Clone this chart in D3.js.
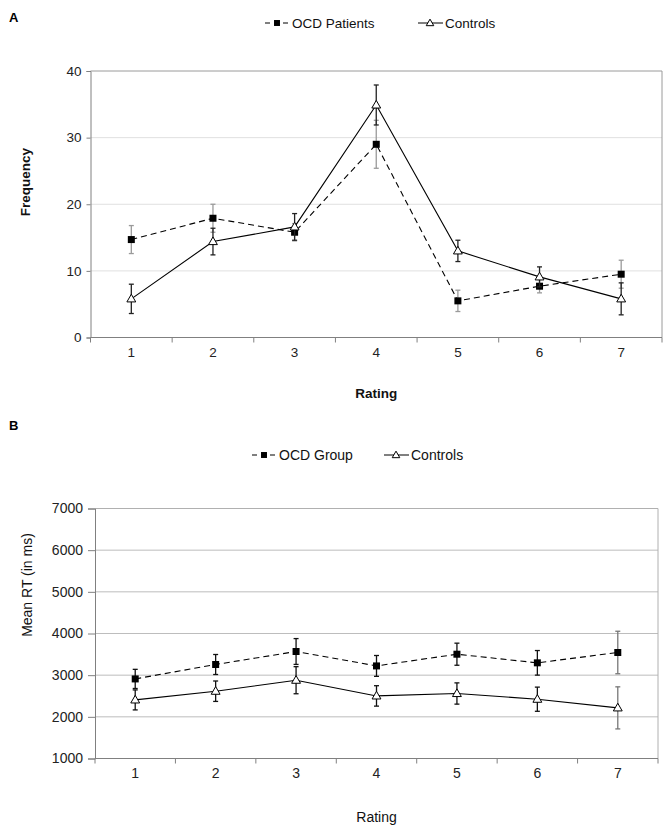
<!DOCTYPE html>
<html>
<head>
<meta charset="utf-8">
<script src="https://cdn.jsdelivr.net/npm/d3@7"></script>
<style>
body { margin: 0; background: #fff; }
svg { font-family: "Liberation Sans", Arial, sans-serif; }
</style>
</head>
<body>
<div id="chart"></div>
<script>
const ratings = ["1", "2", "3", "4", "5", "6", "7"];

// panel A: frequency
const freqTicks = [0, 10, 20, 30, 40];
const freqOcd = [14.7, 17.9, 15.8, 29.0, 5.5, 7.7, 9.5];
const freqOcdErr = [2.1, 2.1, 1.3, 3.6, 1.6, 1.0, 2.1];
const freqCtrl = [5.8, 14.4, 16.6, 34.9, 13.0, 9.1, 5.8];
const freqCtrlErr = [2.2, 2.0, 2.0, 3.0, 1.6, 1.5, 2.4];

// panel B: mean RT
const rtTicks = [1000, 2000, 3000, 4000, 5000, 6000, 7000];
const rtOcd = [2910, 3256, 3568, 3222, 3503, 3296, 3544];
const rtOcdErr = [230, 240, 310, 250, 265, 295, 510];
const rtCtrl = [2406, 2615, 2879, 2502, 2560, 2423, 2215];
const rtCtrlErr = [240, 245, 325, 245, 255, 290, 505];

const width = 670;
const height = 831;

const svg = d3.select("#chart")
	.append("svg")
	.attr("width", width)
	.attr("height", height);

function drawPanel(p) {
	const g = svg.append("g");

	const x = d3.scaleBand()
		.domain(ratings)
		.range([p.left, p.right]);

	const y = d3.scaleLinear()
		.domain([p.ticks[0], p.ticks[p.ticks.length - 1]])
		.range([p.bottom, p.top]);

	// gridlines
	g.append("g")
		.selectAll("line")
		.data(p.ticks.slice(1, -1))
		.enter()
		.append("line")
		.attr("x1", p.left)
		.attr("x2", p.right)
		.attr("y1", d => y(d))
		.attr("y2", d => y(d))
		.style("stroke", p.gridColor)
		.style("stroke-width", 1);

	// frame (top & right)
	g.append("path")
		.attr("d", "M" + p.left + "," + p.top + "H" + p.right + "V" + p.bottom)
		.style("fill", "none")
		.style("stroke", p.frameColor);

	// y axis
	const yAxis = g.append("g")
		.attr("transform", "translate(" + p.left + ",0)")
		.call(d3.axisLeft(y).tickValues(p.ticks).tickFormat(d3.format("d"))
			.tickSize(p.tickLen).tickPadding(5));
	yAxis.select(".domain").style("stroke", "#808080");
	yAxis.selectAll(".tick line").style("stroke", "#808080");
	yAxis.selectAll("text")
		.style("font-size", p.fontSize)
		.style("fill", "#222")
		.style("font-family", "Liberation Sans, Arial, sans-serif");

	// x axis: ticks at category boundaries
	const xAxis = g.append("g")
		.attr("transform", "translate(0," + p.bottom + ")");
	xAxis.append("line")
		.attr("x1", p.left)
		.attr("x2", p.right)
		.style("stroke", "#808080");
	xAxis.selectAll(".bound")
		.data(d3.range(ratings.length + 1))
		.enter()
		.append("line")
		.attr("x1", i => p.left + i * x.bandwidth())
		.attr("x2", i => p.left + i * x.bandwidth())
		.attr("y1", 0)
		.attr("y2", 5)
		.style("stroke", "#808080");
	xAxis.selectAll("text")
		.data(ratings)
		.enter()
		.append("text")
		.attr("x", d => x(d) + x.bandwidth() / 2)
		.attr("y", p.labelDy)
		.attr("text-anchor", "middle")
		.style("font-size", p.fontSize)
		.style("fill", "#222")
		.text(d => d);

	// axis titles
	g.append("text")
		.attr("x", (p.left + p.right) / 2)
		.attr("y", p.xTitleY)
		.attr("text-anchor", "middle")
		.style("font-size", p.fontSize)
		.style("font-weight", p.bold ? "bold" : "normal")
		.style("fill", "#111")
		.text("Rating");

	g.append("text")
		.attr("transform", "translate(" + p.yTitleX + "," + p.yTitleY + ") rotate(-90)")
		.attr("text-anchor", "middle")
		.attr("dy", "0.35em")
		.style("font-size", p.fontSize)
		.style("font-weight", p.bold ? "bold" : "normal")
		.style("fill", "#111")
		.text(p.yTitle);

	// panel letter
	g.append("text")
		.attr("x", 9)
		.attr("y", p.letterY)
		.style("font-size", "13px")
		.style("font-weight", "bold")
		.text(p.letter);

	const cx = d => x(d) + x.bandwidth() / 2;

	const line = d3.line()
		.x(d => cx(d[0]))
		.y(d => y(d[1]));

	p.series.forEach(function (s) {
		const pts = ratings.map((r, i) => [r, s.values[i], s.err[i]]);
		const sg = g.append("g");

		// error bars
		const eb = sg.selectAll(".err")
			.data(pts)
			.enter()
			.append("g")
			.style("stroke", (d, i) => s.errColor[i])
			.style("stroke-width", 1.3);
		eb.append("line")
			.attr("x1", d => cx(d[0]))
			.attr("x2", d => cx(d[0]))
			.attr("y1", d => y(d[1] - d[2]))
			.attr("y2", d => y(d[1] + d[2]));
		eb.append("line")
			.attr("x1", d => cx(d[0]) - 2.5)
			.attr("x2", d => cx(d[0]) + 2.5)
			.attr("y1", d => y(d[1] + d[2]))
			.attr("y2", d => y(d[1] + d[2]));
		eb.append("line")
			.attr("x1", d => cx(d[0]) - 2.5)
			.attr("x2", d => cx(d[0]) + 2.5)
			.attr("y1", d => y(d[1] - d[2]))
			.attr("y2", d => y(d[1] - d[2]));

		sg.append("path")
			.datum(pts)
			.attr("d", line)
			.style("fill", "none")
			.style("stroke", "#000")
			.style("stroke-width", 1.1)
			.style("stroke-dasharray", s.dash);

		drawMarkers(sg, pts.map(d => [cx(d[0]), y(d[1])]), s.marker);
	});

	// legend
	p.series.forEach(function (s, i) {
		const lx = p.legendX[i];
		const lg = g.append("g");
		lg.append("line")
			.attr("x1", lx)
			.attr("x2", lx + 25)
			.attr("y1", p.legendY)
			.attr("y2", p.legendY)
			.style("stroke", "#000")
			.style("stroke-width", 1)
			.style("stroke-dasharray", s.dash ? "5,4" : null);
		drawMarkers(lg, [[lx + 12, p.legendY]], s.marker, 0.85);
		lg.append("text")
			.attr("x", lx + 27)
			.attr("y", p.legendY)
			.attr("dy", "0.35em")
			.style("font-size", p.fontSize)
			.style("fill", "#111")
			.text(s.name);
	});
}

function drawMarkers(sel, pts, kind, k) {
	k = k || 1;
	if (kind === "square") {
		const a = 7 * k;
		sel.selectAll(".m-sq")
			.data(pts)
			.enter()
			.append("rect")
			.attr("x", d => d[0] - a / 2)
			.attr("y", d => d[1] - a / 2)
			.attr("width", a)
			.attr("height", a)
			.style("fill", "#000");
	} else {
		const sym = d3.symbol().type(d3.symbolTriangle).size(34 * k * k);
		sel.selectAll(".m-tri")
			.data(pts)
			.enter()
			.append("path")
			.attr("transform", d => "translate(" + d[0] + "," + (d[1] + 0.5) + ")")
			.attr("d", sym)
			.style("fill", "#fff")
			.style("stroke", "#000")
			.style("stroke-width", 1);
	}
}

drawPanel({
	letter: "A", letterY: 22,
	left: 90.5, right: 662, top: 71, bottom: 337.5,
	ticks: freqTicks, tickLen: 4, labelDy: 19, fontSize: "13.5px",
	gridColor: "#e0e0e0", frameColor: "#9a9a9a",
	bold: true,
	yTitle: "Frequency", yTitleX: 25, yTitleY: 182,
	xTitleY: 398,
	legendX: [265, 418], legendY: 23,
	series: [
		{ name: "OCD Patients", values: freqOcd, err: freqOcdErr, marker: "square", dash: "6,4",
			errColor: ratings.map(() => "#9a9a9a") },
		{ name: "Controls", values: freqCtrl, err: freqCtrlErr, marker: "triangle", dash: null,
			errColor: ratings.map(() => "#222") }
	]
});

drawPanel({
	letter: "B", letterY: 430,
	left: 95, right: 658, top: 508.5, bottom: 758.5,
	ticks: rtTicks, tickLen: 7, labelDy: 19.5, fontSize: "14px",
	gridColor: "#bdbdbd", frameColor: "#b0b0b0",
	bold: false,
	yTitle: "Mean RT (in ms)", yTitleX: 27, yTitleY: 585,
	xTitleY: 822,
	legendX: [252, 384], legendY: 455,
	series: [
		{ name: "OCD Group", values: rtOcd, err: rtOcdErr, marker: "square", dash: "6,4",
			errColor: ratings.map((r, i) => i === 6 ? "#777" : "#111") },
		{ name: "Controls", values: rtCtrl, err: rtCtrlErr, marker: "triangle", dash: null,
			errColor: ratings.map((r, i) => i === 6 ? "#777" : "#111") }
	]
});
</script>
</body>
</html>
